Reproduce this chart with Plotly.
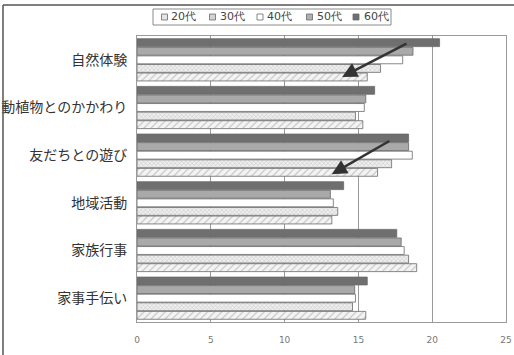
import plotly.graph_objects as go

# Activity categories, listed bottom-to-top on the y axis
categories = ["家事手伝い", "家族行事", "地域活動", "友だちとの遊び", "動植物とのかかわり", "自然体験"]

# Values per age group (same order as categories)
age_20 = [15.5, 18.95, 13.2, 16.3, 15.3, 15.6]
age_30 = [14.6, 18.4, 13.6, 17.25, 14.8, 16.5]
age_40 = [14.8, 18.1, 13.3, 18.65, 15.4, 18.0]
age_50 = [14.75, 17.9, 13.1, 18.4, 15.5, 18.7]
age_60 = [15.6, 17.6, 14.0, 18.4, 16.1, 20.5]

x_ticks = [0, 5, 10, 15, 20, 25]

series = [
    ("20代", age_20, dict(color="#f4f4f4", pattern=dict(shape="/", fgcolor="#9a9a9a", size=5, solidity=0.25)), "#e4e4e4"),
    ("30代", age_30, dict(color="#eeeeee", pattern=dict(shape="x", fgcolor="#9a9a9a", size=3, solidity=0.3)), "#d2d2d2"),
    ("40代", age_40, dict(color="#ffffff"), "#ffffff"),
    ("50代", age_50, dict(color="#a9a9a9"), "#b0b0b0"),
    ("60代", age_60, dict(color="#6f6f6f"), "#6f6f6f"),
]

# Plot-area geometry in pixels, used to place the hand-drawn legend and frame
W, H = 514, 355
ML, MR, MT, MB = 137, 8, 36, 33
PW, PH = W - ML - MR, H - MT - MB


def px(x):
    return (x - ML) / PW


def py(y):
    return (H - MB - y) / PH


fig = go.Figure()
for name, vals, mk, _ in series:
    mk = dict(mk)
    mk["line"] = dict(color="#6a6a6a", width=0.8)
    fig.add_trace(go.Bar(
        y=categories, x=vals, name=name, orientation="h", marker=mk,
        showlegend=False,
    ))

# Arrows highlighting the younger groups
arrows = [
    (18.36, 0.976, 13.9, 0.857),
    (17.2, 0.636, 13.2, 0.517),
]
for x0, y0, x1, y1 in arrows:
    fig.add_annotation(
        x=x1, y=y1, ax=x0, ay=y0,
        xref="x", yref="y domain", axref="x", ayref="y domain",
        showarrow=True, arrowhead=2, arrowsize=1.2, arrowwidth=2.5,
        arrowcolor="#333333", text="",
    )

# Outer frame of the figure
fig.add_shape(type="line", xref="paper", yref="paper",
              x0=px(3), x1=px(530), y0=py(5), y1=py(5),
              line=dict(color="#555555", width=1.5))
fig.add_shape(type="line", xref="paper", yref="paper",
              x0=px(3), x1=px(3), y0=py(5), y1=py(380),
              line=dict(color="#555555", width=1.5))

# Compact legend box along the top
fig.add_shape(type="rect", xref="paper", yref="paper",
              x0=px(153), x1=px(391), y0=py(9), y1=py(25),
              line=dict(color="#8a8a8a", width=1), fillcolor="#ffffff")
sq_x = [161.5, 209.5, 257, 306.5, 353]
tx_x = [169, 218, 265, 315, 362]
for (name, _, _, sw), sx, tx in zip(series, sq_x, tx_x):
    fig.add_shape(type="rect", xref="paper", yref="paper",
                  x0=px(sx), x1=px(sx + 6), y0=py(14), y1=py(20),
                  line=dict(color="#6a6a6a", width=0.8), fillcolor=sw)
    fig.add_annotation(x=px(tx), y=py(17), xref="paper", yref="paper",
                       text=name, showarrow=False, xanchor="left", yanchor="middle",
                       font=dict(family="DejaVu Sans", size=11, color="#444444"))

fig.update_layout(
    width=W, height=H,
    margin=dict(l=ML, r=MR, t=MT, b=MB),
    paper_bgcolor="#ffffff", plot_bgcolor="#ffffff",
    barmode="group", bargap=0.1, bargroupgap=0.08,
    showlegend=False,
    xaxis=dict(
        range=[0, 25], tickvals=x_ticks, showgrid=True, gridcolor="#9a9a9a",
        gridwidth=1, showline=True, linecolor="#9a9a9a", mirror=True,
        zeroline=False, ticks="", automargin=False, ticklabelstandoff=9,
        tickfont=dict(family="DejaVu Sans", size=9, color="#777777"),
    ),
    yaxis=dict(
        categoryorder="array", categoryarray=categories, automargin=False,
        showline=True, linecolor="#9a9a9a", mirror=True, ticks="",
        tickfont=dict(family="Noto Sans CJK JP", size=14, color="#333333"),
        ticklabelstandoff=6,
    ),
)

fig.write_html("out.html")
